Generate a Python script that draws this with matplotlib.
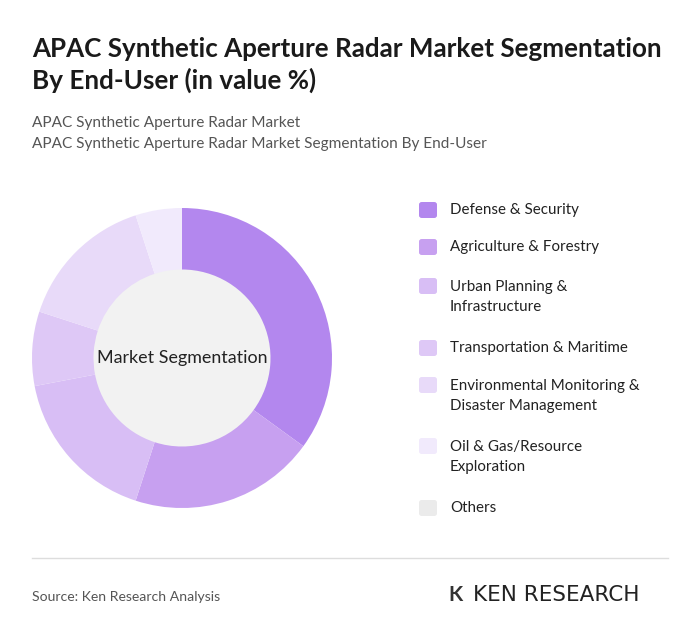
import matplotlib
matplotlib.use("Agg")
import matplotlib.pyplot as plt
from matplotlib.patches import FancyBboxPatch

plt.rcParams['font.family'] = ['Lato', 'DejaVu Sans']

labels = ["Defense & Security", "Agriculture & Forestry", "Urban Planning &\nInfrastructure",
          "Transportation & Maritime", "Environmental Monitoring &\nDisaster Management",
          "Oil & Gas/Resource\nExploration", "Others"]
values = [35, 20, 17, 8, 15, 5, 0]
colors = ["#B387EE", "#C7A0F0", "#D8BEF5", "#DEC8F6", "#E8DAF9", "#F1EAFC", "#EBEBEB"]

fig = plt.figure(figsize=(7, 6.43), dpi=100)
fig.patch.set_facecolor("white")

fig.text(32/700, 1-65/643, "APAC Synthetic Aperture Radar Market Segmentation\nBy End-User (in value %)",
         fontsize=18.7, fontweight="bold", color="#1a1a1a", va="center", linespacing=1.3)
fig.text(32/700, 1-123/643, "APAC Synthetic Aperture Radar Market", fontsize=11.1, color="#555555", va="center")
fig.text(32/700, 1-144/643, "APAC Synthetic Aperture Radar Market Segmentation By End-User", fontsize=11.1, color="#555555", va="center")

ax = fig.add_axes([32/700, (643-358-150)/643, 300/700, 300/643])
ax.pie(values, colors=colors, startangle=90, counterclock=False,
       wedgeprops=dict(width=0.41, linewidth=0), radius=1)
ax.add_patch(plt.Circle((0, 0), 0.59, color="#F2F2F2", zorder=0))
ax.text(0, 0, "Market Segmentation", ha="center", va="center", fontsize=12.9, color="#222222")
ax.set_xlim(-1, 1); ax.set_ylim(-1, 1); ax.set_aspect("equal"); ax.axis("off")

ys = [210, 247, 297, 348, 396, 457, 508]
for lab, c, y in zip(labels, colors, ys):
    nl = lab.count("\n")
    sy = y - 11 * nl
    fig.patches.append(FancyBboxPatch(((419)/700, 1-(sy+8)/643), 18/700, 16/643,
                                      boxstyle="round,pad=0,rounding_size=0.004",
                                      transform=fig.transFigure, facecolor=c, edgecolor="none"))
    fig.text(450/700, 1-y/643, lab, fontsize=10.9, color="#222222", va="center", linespacing=1.6)

fig.add_artist(plt.Line2D([32/700, 668/700], [1-558/643, 1-558/643], color="#dddddd", lw=1))
fig.text(32/700, 1-597/643, "Source: Ken Research Analysis", fontsize=10.1, color="#555555", va="center")
fig.text(473/700, 1-595/643, "KEN RESEARCH", fontsize=15.5, family="DejaVu Sans", color="#222222", va="center")
fig.text(448/700, 1-595/643, "K", fontsize=15, fontweight="bold", color="#333333", va="center")

fig.savefig("out.png", dpi=100, facecolor="white")
